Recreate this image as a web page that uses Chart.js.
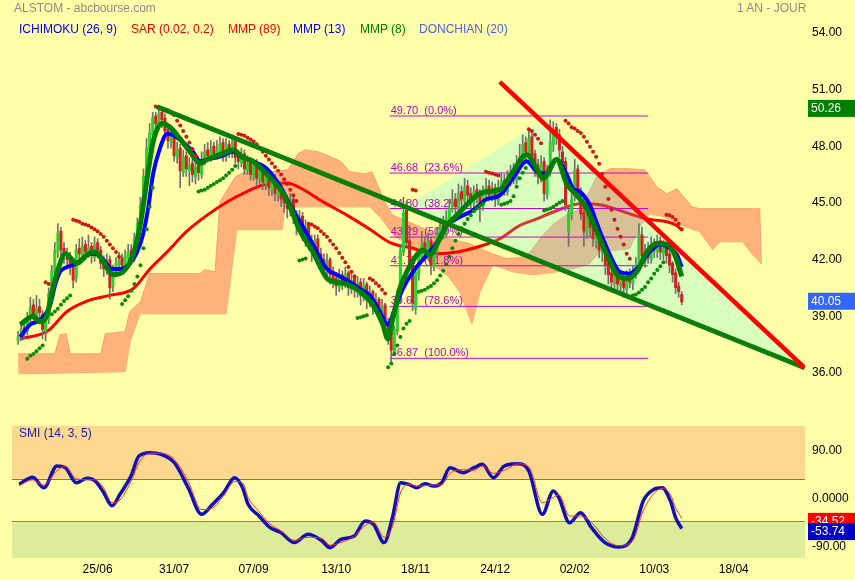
<!DOCTYPE html>
<html>
<head>
<meta charset="utf-8">
<title>ALSTOM - 1 an jour</title>
<script src="https://cdn.jsdelivr.net/npm/chart.js@4.4.1/dist/chart.umd.min.js"></script>
<style>
  html, body { margin: 0; padding: 0; }
  body { width: 855px; height: 580px; background: #ffffaa; position: relative; overflow: hidden;
         font-family: Arial, "Liberation Sans", sans-serif; }
  canvas { position: absolute; left: 0; }
  #priceChart { top: 0; }
  #smiChart { top: 420px; }
  .txt { position: absolute; font-size: 12px; line-height: 14px; white-space: nowrap; }
</style>
</head>
<body>
<canvas id="priceChart" width="855" height="415"></canvas>
<canvas id="smiChart" width="855" height="160"></canvas>

<div class="txt" style="left:14px;top:1px;color:#8a8a8a">ALSTOM - abcbourse.com</div>
<div class="txt" style="left:737px;top:1px;color:#8a8a8a">1 AN - JOUR</div>
<div class="txt" style="left:19px;top:22px;color:#0000e6">ICHIMOKU (26, 9)</div>
<div class="txt" style="left:131px;top:22px;color:#e60000">SAR (0.02, 0.2)</div>
<div class="txt" style="left:228px;top:22px;color:#ff0000">MMP (89)</div>
<div class="txt" style="left:293px;top:22px;color:#0000ff">MMP (13)</div>
<div class="txt" style="left:360px;top:22px;color:#008000">MMP (8)</div>
<div class="txt" style="left:419px;top:22px;color:#5060dd">DONCHIAN (20)</div>
<div class="txt" style="left:19px;top:426px;color:#1a1ab0">SMI (14, 3, 5)</div>

<script>
// x = session index, 0 = first day shown
const C = [
  38.0,38.4,38.2,39.0,39.6,39.2,39.5,39.3,38.4,38.9,
  40.3,41.5,42.6,43.5,42.6,42.3,42.1,41.8,41.0,42.6,
  42.4,42.8,42.5,42.7,42.3,42.9,42.6,41.9,41.6,42.0,
  40.6,41.5,41.9,42.1,41.8,42.3,42.5,42.3,43.2,44.0,
  45.0,46.5,48.0,48.8,49.6,49.3,49.8,49.5,48.9,48.4,
  48.7,47.6,47.9,46.8,47.5,46.9,47.1,46.6,47.0,46.7,
  47.4,47.8,47.6,48.0,47.7,47.9,48.2,47.6,48.1,47.8,
  48.3,47.5,47.3,47.6,46.9,47.2,46.6,47.1,46.4,46.8,
  46.2,46.5,45.9,46.3,45.6,45.9,45.3,45.1,44.8,45.2,
  44.4,43.9,44.3,43.5,43.8,43.0,42.6,43.1,42.3,42.0,
  41.6,42.0,41.3,41.0,40.7,41.2,40.9,41.3,40.6,41.0,
  40.5,40.8,40.2,40.7,40.0,40.3,39.7,39.9,39.4,39.6,
  38.9,38.3,37.3,38.4,40.2,42.6,44.6,43.0,42.0,39.8,
  41.4,42.3,42.9,42.5,43.0,41.8,42.6,43.4,43.9,43.6,
  44.3,44.8,45.2,44.9,45.6,45.3,45.9,45.5,45.2,45.7,
  45.4,45.0,45.6,45.9,45.5,45.8,45.3,45.9,46.2,45.8,
  46.3,46.7,46.4,47.0,47.5,48.2,47.8,48.5,47.6,47.0,
  46.5,47.2,45.6,46.8,48.3,49.0,48.6,47.9,47.2,45.0,
  44.6,45.3,46.8,45.8,44.5,43.6,44.4,43.8,43.2,43.6,
  42.6,42.9,41.8,41.3,40.9,41.4,40.8,41.1,40.6,41.2,
  40.9,41.5,41.8,43.5,42.3,42.5,42.2,42.8,42.6,43.0,
  42.5,42.7,42.3,41.8,41.3,40.6,40.4,39.85
];
const O = [
  37.8,38.0,38.5,38.3,39.0,39.7,39.1,39.6,39.2,38.3,
  38.9,40.2,41.4,42.5,43.6,42.7,42.2,42.2,41.9,41.1,
  42.7,42.3,42.9,42.4,42.8,42.2,43.0,42.6,42.0,41.5,
  42.1,40.7,41.4,41.8,42.2,41.7,42.2,42.6,42.2,43.1,
  43.9,45.1,46.4,47.9,48.7,49.7,49.2,49.9,49.6,49.0,
  48.3,48.8,47.5,48.0,46.7,47.6,46.8,47.2,46.5,47.1,
  46.6,47.3,47.9,47.5,48.1,47.6,47.8,48.3,47.5,48.2,
  47.7,48.4,47.6,47.2,47.7,46.8,47.3,46.5,47.2,46.3,
  46.9,46.1,46.6,45.8,46.4,45.5,46.0,45.4,45.2,44.7,
  45.3,44.5,43.8,44.4,43.4,43.9,43.1,42.5,43.2,42.4,
  42.1,41.5,42.1,41.4,41.1,40.6,41.3,40.8,41.4,40.5,
  41.1,40.4,40.9,40.1,40.8,39.9,40.4,39.6,40.0,39.3,
  39.7,38.8,38.2,37.2,38.3,40.0,42.5,44.7,43.1,41.9,
  39.5,41.3,42.2,43.0,42.4,43.1,41.7,42.5,43.3,44.0,
  43.5,44.2,44.9,45.3,44.8,45.7,45.2,46.0,45.6,45.1,
  45.8,45.5,44.9,45.5,46.0,45.4,45.9,45.2,45.8,46.3,
  45.7,46.2,46.8,46.3,47.1,47.4,48.3,47.7,48.6,47.7,
  47.1,46.4,47.3,45.5,46.7,48.2,49.1,48.7,47.8,47.3,
  43.6,44.5,45.4,46.9,45.7,44.6,43.5,44.5,43.9,43.1,
  43.7,42.5,43.0,41.9,41.4,40.8,41.5,40.7,41.2,40.5,
  41.3,40.8,41.4,41.9,43.4,42.0,42.6,42.1,42.9,42.5,
  43.1,42.4,42.8,42.4,41.9,41.4,40.7,40.25
];
const H = [
  38.3,38.7,38.8,39.3,40.1,40.0,40.2,40.0,39.4,39.3,
  40.6,41.8,43.0,44.0,43.8,43.0,42.7,42.5,42.1,42.9,
  43.2,43.3,43.1,43.4,43.0,43.3,43.2,42.8,42.3,42.4,
  42.3,41.8,42.2,42.5,42.4,42.6,42.9,42.9,43.5,44.3,
  45.4,46.9,48.5,49.3,49.9,49.9,50.0,50.0,49.8,49.2,
  49.1,49.0,48.3,48.2,47.9,47.8,47.5,47.4,47.4,47.3,
  47.8,48.2,48.3,48.4,48.3,48.4,48.6,48.5,48.5,48.4,
  48.7,48.6,47.9,48.0,47.9,47.6,47.5,47.4,47.4,47.2,
  47.1,46.9,46.8,46.6,46.6,46.3,46.2,45.7,45.5,45.6,
  45.5,44.7,44.7,44.6,44.2,44.0,43.4,43.4,43.4,42.7,
  42.4,42.4,42.2,41.7,41.4,41.6,41.5,41.7,41.5,41.4,
  41.3,41.2,41.1,41.1,40.9,40.7,40.5,40.3,40.1,40.0,
  39.8,39.0,38.4,38.6,40.5,42.9,45.4,45.2,43.9,42.2,
  41.7,42.6,43.6,43.3,43.5,43.3,43.0,43.8,44.3,44.4,
  44.7,45.3,45.8,45.6,46.1,46.0,46.4,46.3,45.9,46.0,
  46.1,45.8,46.0,46.4,46.3,46.2,46.1,46.3,46.7,46.6,
  46.8,47.1,47.2,47.6,48.2,48.7,48.6,48.9,48.8,47.9,
  47.4,47.6,47.5,47.1,49.5,49.4,49.3,49.0,48.1,47.5,
  44.8,45.6,47.4,47.1,45.9,45.4,44.8,44.7,44.1,44.0,
  43.9,43.3,43.1,42.1,41.7,41.8,41.6,41.5,41.4,41.5,
  41.6,41.8,42.2,44.0,43.8,42.9,43.0,43.3,43.2,43.4,
  43.3,43.1,43.0,42.6,42.0,41.6,40.9,40.4
];
const L = [
  37.6,37.8,37.9,38.1,38.8,38.9,38.9,39.0,37.9,37.8,
  38.7,40.0,41.2,42.2,42.3,41.9,41.7,41.3,40.6,40.9,
  42.0,42.1,42.1,42.2,41.9,42.0,42.2,41.6,41.2,41.3,
  40.0,40.4,41.2,41.6,41.5,41.5,42.0,42.0,42.0,42.9,
  43.7,44.9,46.2,47.6,48.4,48.9,49.0,49.1,48.6,48.0,
  48.0,47.3,47.2,45.9,46.5,46.5,46.0,46.2,46.1,46.3,
  46.4,47.1,47.3,47.3,47.4,47.4,47.6,47.3,47.3,47.5,
  47.5,47.2,46.9,47.0,46.6,46.6,46.3,46.3,46.0,46.1,
  45.8,45.8,45.5,45.5,45.2,45.2,44.9,44.6,44.3,44.4,
  44.0,43.4,43.6,43.1,42.8,42.6,42.0,42.2,41.9,41.6,
  41.2,41.2,40.8,40.6,40.2,40.4,40.5,40.6,40.2,40.3,
  40.1,40.1,39.7,39.9,39.5,39.6,39.2,39.3,38.9,39.0,
  38.4,37.6,36.7,37.0,38.1,39.8,42.3,42.8,41.7,39.4,
  39.2,41.0,42.0,42.0,42.1,41.3,41.5,42.3,43.1,43.2,
  43.3,44.0,44.6,44.5,44.6,45.0,45.0,45.2,44.8,44.6,
  45.1,44.1,44.7,45.3,45.2,45.2,44.9,45.0,45.6,45.5,
  45.5,46.0,46.1,46.1,46.9,47.2,47.2,47.5,47.3,46.5,
  46.1,46.2,45.2,45.3,46.5,47.8,48.2,47.5,46.8,44.7,
  42.8,44.2,45.2,45.5,44.2,42.8,43.2,43.3,42.8,42.7,
  42.2,42.0,41.3,40.8,40.5,40.5,40.4,40.3,40.1,40.2,
  40.6,40.5,41.1,41.7,41.8,41.7,41.9,41.9,42.2,42.2,
  42.1,42.1,41.9,41.4,40.9,40.3,40.1,39.7
];

// moving averages
const ma8Idx = [0.7,4.9,7.2,9.5,11.1,13.1,15.4,19.3,22.5,25.2,27.8,31,34.3,37.6,39.9,42.2,44.1,47.1,49.7,52.9,
  56.2,59.5,61.8,66,70.3,73.5,76.8,81.4,85.6,88.9,92.2,96.4,101,104.2,107.5,111.8,116,119.3,120.9,122.5,
  124.8,127.1,130.4,132.4,134.6,137.9,140.2,143.5,146.7,150,153.3,157.5,161.8,166.3,169.6,171.6,176.1,179.4,182.7,185.9,
  189.2,192.5,195.8,199,202.3,205.6,208.8,212.1,214.7,217];
const ma8Val = [38.65,39.1,38.8,39.2,40.4,41.6,42.4,41.9,42.35,42.5,42.0,41.3,41.45,42.35,43.9,46.4,48.3,49.3,49.1,48.5,
  47.8,47.2,47.4,47.65,47.9,47.5,47.3,46.6,45.85,44.9,43.6,42.5,41.1,40.9,40.8,40.4,39.7,38.65,37.9,38.95,
  40.55,41.45,42.35,42.6,42.35,43.2,43.9,44.45,45.0,45.5,45.7,45.8,46.75,47.65,46.9,46.4,47.4,46.1,45.5,44.8,
  43.6,42.35,41.3,41.1,41.45,42.5,42.95,42.9,42.35,41.2];
const ma13Idx = [0.7,3.9,7.2,10.5,12.1,13.7,16,19.3,22.5,25.2,27.8,30.7,33.3,36.6,38.9,40.8,42.5,44.1,46.4,48.7,
  50.7,53.9,57.2,59.5,61.8,66,70.3,73.5,76.8,81.4,85.6,88.9,92.2,96.4,101,104.2,107.5,111.8,115,118.3,
  120.9,123.2,125.8,129.1,133.7,136.9,140.2,144.4,148.7,153.3,157.5,161.8,166.3,169.6,172.9,176.1,179.4,181.5,183.7,186.9,
  190.2,193.5,196.7,200,203.3,206.5,209.8,213.1,215.4,217];
const ma13Val = [38.0,38.65,38.9,39.7,40.75,41.45,41.7,41.9,42.35,42.4,42.1,41.6,41.6,41.9,42.5,43.4,44.8,46.6,48.0,48.75,
  48.7,48.3,47.8,47.3,47.4,47.55,47.8,47.5,47.3,46.9,46.0,45.0,44.1,42.9,41.6,41.3,41.0,40.55,40.2,39.35,
  38.65,39.5,40.55,41.45,42.35,43.0,43.9,44.35,44.7,45.3,45.5,46.4,47.3,46.75,46.65,47.4,46.6,45.85,45.7,45.0,
  43.6,42.35,41.45,41.35,41.8,42.5,42.9,42.7,42.35,41.7];
const ma89Idx = [0.7,9.5,16,22.5,30,37.6,43.1,48.7,55.2,61.8,68.3,74.8,81.4,87.9,92.2,99.7,107.5,115,121.6,129.1,
  135.6,143.5,151,157.5,164,169.6,177.1,183.7,190.2,196.7,203.3,207.5,212.1,215.4,217];
const ma89Val = [37.9,38.3,39.35,39.9,40.2,40.55,41.6,42.5,43.6,44.45,45.15,45.7,46.1,46.15,45.9,45.15,44.45,43.7,43.0,42.7,
  42.4,42.5,42.8,43.2,43.9,44.25,44.75,45.05,45.0,44.7,44.35,44.2,44.1,43.9,43.65];

// ichimoku cloud envelope (projected 26 sessions ahead)
const cloudTopIdx = [0,12,13.7,15.7,17,27,28.5,35,36.5,40,43,59.5,61,64.4,66,71,76,82.7,88.2,91.5,
  93.8,98,102.3,105.6,108.5,113.4,115.7,119.9,122.2,131.4,137.9,147.7,153.3,159.8,165.7,168.3,170.6,174.8,179.4,183.7,
  189.2,193.5,199,204.9,208.8,212.1,215.4,217.6,220.3,222.9,242.5,243];
const cloudTopVal = [37.11,37.11,38.12,38.17,37.11,37.11,38.17,38.28,39.34,39.86,41.35,41.35,41.56,41.45,45.16,46.48,46.91,46.75,46.85,47.70,
  47.91,47.81,47.54,47.28,46.75,46.64,46.75,45.16,44.47,43.84,43.31,42.94,42.51,42.14,42.25,42.67,43.20,43.94,44.47,44.74,
  46.48,46.91,46.91,46.85,45.95,45.58,45.85,45.42,44.89,44.79,44.79,41.88];
const cloudBotIdx = [0,35,36.6,39.9,64.4,68,71.5,86.3,87.3,115,118.3,123.2,131.4,135.6,140.2,144.4,148.4,151,155.2,161.8,
  168.3,176.1,181.4,186.9,190.2,200,203.3,206.5,211.4,218,222.9,227.1,229.4,236.9,240.2,243];
const cloudBotVal = [36.05,36.16,37.75,39.23,39.23,39.23,43.68,43.68,44.89,44.89,44.36,43.31,42.51,41.82,41.29,40.39,38.70,40.39,41.82,41.45,
  41.29,41.45,41.61,41.88,42.51,42.67,43.84,44.52,44.36,43.84,43.57,42.62,43.04,43.04,42.35,41.88];

// parabolic SAR, one dot per session
const sar = [
  null,null,null,36.85,37.0,37.1,37.25,37.4,37.55,40.9,
  40.8,39.2,39.35,39.5,39.7,39.9,40.05,40.2,44.2,44.15,
  44.1,44.0,43.95,43.9,43.8,43.7,43.6,43.45,43.3,43.1,
  42.9,42.7,42.5,42.25,39.75,39.95,40.15,40.45,40.8,41.2,
  41.8,42.7,43.7,44.9,45.9,50.2,50.15,50.1,50.05,50.0,
  49.9,49.75,49.45,49.2,48.9,48.6,48.3,47.95,47.6,45.7,
  45.75,45.8,45.9,46.0,46.1,46.2,46.3,46.4,46.55,46.7,
  46.85,47.05,48.75,48.7,48.65,48.55,48.45,48.35,48.2,48.0,
  47.8,47.6,47.4,47.2,47.0,46.8,46.6,46.35,46.1,45.8,
  45.5,45.2,42.05,42.1,42.15,44.0,43.95,43.85,43.75,43.6,
  43.45,43.3,43.1,42.9,42.7,42.45,42.2,41.95,41.7,41.45,
  41.2,39.0,39.05,39.1,39.15,41.1,41.0,40.85,40.7,40.5,
  40.3,36.4,36.6,37.1,37.55,38.0,38.45,38.7,38.85,45.8,
  45.75,40.4,40.45,40.5,40.6,40.7,40.85,41.0,41.25,41.5,
  41.85,42.25,42.7,43.1,43.45,43.75,44.0,44.25,44.45,44.65,
  44.8,44.95,45.05,46.75,46.7,46.65,46.6,46.55,45.0,45.05,
  45.1,45.2,45.45,45.95,46.4,46.7,46.95,49.0,48.9,48.7,
  48.5,48.25,44.7,44.75,44.8,44.9,45.0,45.1,45.2,49.45,
  49.3,49.1,49.04,48.9,48.8,48.6,48.34,48.07,47.8,47.54,
  47.17,46.64,45.95,45.3,44.74,44.2,43.73,43.3,42.9,42.4,
  42.14,40.2,40.25,40.35,40.5,40.65,40.9,41.1,41.35,41.55,
  41.75,41.95,44.47,44.45,44.35,44.2,44.0,43.7
];

// retracement from the 36.87 low to the 49.70 high
const fibPrice = [49.70, 46.68, 44.80, 43.29, 41.77, 39.62, 36.87];
const fibPct = ['0.0%', '23.6%', '38.2%', '50.0%', '61.8%', '78.6%', '100.0%'];
const fibFrom = 121.5, fibTo = 206;

// hand drawn lines on the chart: [session, price]
const greenTrend = [[45.4, 50.19], [257.2, 36.37]];
const redTrend = [[157.5, 51.51], [257.2, 36.37]];
const wedge = [[126.5, 44.9], [172.2, 49.5], [257.2, 36.37], [126.5, 44.9]];

const priceTicks = [36, 39, 42, 45, 48, 51, 54];
const priceTags = [[50.26, '#008000'], [40.05, '#3366ff']];

// SMI panel
const smiIdx = [0.3,4.8,8.4,12.7,15.4,19,22.5,25.2,28,30.7,33.3,36.9,39.5,43.1,46.7,51.1,55.6,60,63.6,67.2,
  70.8,73.4,75.2,78.8,82.4,85.9,90.3,94.8,99.2,102,105.5,109.9,113.5,116.2,119.7,122.4,125.1,127.8,130.4,133.1,
  135.8,138.5,141.2,145.6,149.1,151.8,155.4,159,163.4,167,171.4,175,176.8,180.3,183.9,187.5,191.9,196.4,200.8,204.4,
  207.9,210.6,213.3,215,217];
const smiVal = [29.5,43,23,64,61,32.5,41,35.7,13.7,-11,10.7,45,82.7,89,86,70,23,-27,-8,13.7,
  42,23,-8,-30,-52,-61,-80,-64.5,-76,-89.6,-74,-67.7,-39.5,-45.7,-80,-33,32.5,29.5,23,30.7,
  26.3,32.5,60.7,51.3,60.7,67,42,64,68.2,54.5,-27,17,4.4,-42.7,-23.8,-52,-80,-88.3,-70.8,-1.9,
  20,23,-1.9,-33,-53.74];
const sigVal = [27,38,28,55,63,40,38,38,22,-5,0,35,70,88,88,76,35,-18,-15,8,
  35,32,5,-22,-45,-58,-76,-70,-72,-85,-80,-68,-48,-42,-70,-50,15,30,26,27,
  28,29,50,57,56,64,50,56,68,62,-5,5,10,-30,-30,-42,-72,-86,-78,-20,
  12,22,10,-15,-34.52];
const smiLevels = [40, -40];
const smiTicks = [-90, 0, 90];
const smiTickLabels = ['-90.00', '0.0000', '90.00'];
const smiTags = [[-34.52, '#ff0000'], [-53.74, '#0000cc']];

const tickIdx = [26, 51, 77, 104, 130, 156, 182, 208, 234];
const tickLabels = ['25/06', '31/07', '07/09', '13/10', '18/11', '24/12', '02/02', '10/03', '18/04'];

const FONT = 'Arial, "Liberation Sans", sans-serif';
Chart.defaults.font.family = FONT;
Chart.defaults.font.size = 12;
Chart.defaults.color = '#000';

const pts = (xs, ys) => xs.map((x, k) => ({ x: x, y: ys[k] }));
const pairs = arr => arr.map(p => ({ x: p[0], y: p[1] }));

// keep the plot area fixed: no room reserved for half tick labels
function noPad(axis) {
    axis.paddingTop = 0;
    axis.paddingBottom = 0;
    axis.paddingLeft = 0;
    axis.paddingRight = 0;
}

function drawTags(chart, tags) {
    const { ctx, chartArea, scales } = chart;
    ctx.save();
    ctx.font = '12px ' + FONT;
    ctx.textBaseline = 'middle';
    tags.forEach(t => {
        const cy = scales.y.getPixelForValue(t[0]) + 3;
        ctx.fillStyle = t[1];
        ctx.fillRect(chartArea.right + 3, cy - 8.5, 50, 17);
        ctx.fillStyle = '#fff';
        ctx.fillText(t[0].toFixed(2), chartArea.right + 6, cy + 0.5);
    });
    ctx.restore();
}

// 1. price panel
const fibData = [];
fibPrice.forEach(p => {
    fibData.push({ x: fibFrom, y: p }, { x: fibTo, y: p }, { x: fibTo + 0.1, y: null });
});

const sarPts = [], sarColors = [];
sar.forEach((v, i) => {
    if (v === null) return;
    sarPts.push({ x: i, y: v });
    sarColors.push(v < C[i] ? '#0a8a0a' : '#cc1a1a');
});

const bodies = C.map((c, i) => ({ x: i, y: [O[i], c] }));
const wicks = C.map((c, i) => ({ x: i, y: [L[i], H[i]] }));
const bodyColors = C.map((c, i) => c >= O[i] ? '#2ed02e' : '#d42020');

const fibLabels = {
    id: 'fibLabels',
    afterDatasetDraw(chart, args) {
        if (chart.data.datasets[args.index].label !== 'fib') return;
        const { ctx, scales } = chart;
        ctx.save();
        ctx.font = '11px ' + FONT;
        ctx.fillStyle = '#bb00bb';
        ctx.textBaseline = 'alphabetic';
        fibPrice.forEach((p, k) => {
            ctx.fillText(p.toFixed(2) + '  (' + fibPct[k] + ')',
                scales.x.getPixelForValue(fibFrom) + 1, scales.y.getPixelForValue(p) - 2);
        });
        ctx.restore();
    }
};

const priceTagPlugin = { id: 'priceTags', afterDraw(chart) { drawTags(chart, priceTags); } };

const line = (label, data, color, width, order, extra) => Object.assign({
    type: 'line', label, data, borderColor: color, borderWidth: width, pointRadius: 0,
    fill: false, order, cubicInterpolationMode: 'monotone'
}, extra || {});

new Chart(document.getElementById('priceChart'), {
    type: 'line',
    data: {
        datasets: [
            line('cloudTop', pts(cloudTopIdx, cloudTopVal), '#f4a070', 1, 100,
                { fill: '+1', backgroundColor: '#ffb27a', cubicInterpolationMode: 'default', tension: 0 }),
            line('cloudBot', pts(cloudBotIdx, cloudBotVal), '#f4a070', 1, 101,
                { cubicInterpolationMode: 'default', tension: 0 }),
            line('mmp89', pts(ma89Idx, ma89Val), '#ff0000', 3, 90),
            line('wedge', pairs(wedge), 'rgba(0,0,0,0)', 0, 80,
                { fill: 'shape', backgroundColor: 'rgba(60,255,255,0.2)', cubicInterpolationMode: 'default', tension: 0 }),
            line('fib', fibData, '#cc00cc', 1, 70, { cubicInterpolationMode: 'default', tension: 0 }),
            {
                type: 'bar', label: 'wicks', data: wicks, backgroundColor: '#707070',
                barThickness: 1, grouped: false, order: 60
            },
            {
                type: 'bar', label: 'bodies', data: bodies, backgroundColor: bodyColors,
                barThickness: 2.4, minBarLength: 1, grouped: false, order: 50
            },
            line('mmp13', pts(ma13Idx, ma13Val), '#0000ff', 4, 40),
            line('mmp8', pts(ma8Idx, ma8Val), '#008000', 5, 30),
            {
                type: 'line', label: 'sar', data: sarPts, showLine: false, pointRadius: 2,
                pointBorderWidth: 0, pointBackgroundColor: sarColors, order: 20
            },
            line('greenTrend', pairs(greenTrend), '#0a7d0a', 5, 15, { cubicInterpolationMode: 'default', tension: 0 }),
            line('redTrend', pairs(redTrend), '#ff0000', 4.5, 10, { cubicInterpolationMode: 'default', tension: 0 })
        ]
    },
    options: {
        responsive: false,
        animation: false,
        events: [],
        layout: { padding: { left: 12, right: 0, top: 0, bottom: 0 }, autoPadding: false },
        plugins: { legend: { display: false }, tooltip: { enabled: false } },
        scales: {
            x: { type: 'linear', min: -2, max: 257.3, offset: false, display: false },
            y: {
                position: 'right', min: 33.8691, max: 55.8397,
                grid: { display: false, drawTicks: false }, border: { display: false },
                afterBuildTicks: axis => { axis.ticks = priceTicks.map(v => ({ value: v })); },
                afterFit: axis => { axis.width = 50; noPad(axis); },
                ticks: { padding: 7, labelOffset: -1.75, callback: v => v.toFixed(2) }
            }
        }
    },
    plugins: [fibLabels, priceTagPlugin]
});

// 2. SMI panel
const smiBands = {
    id: 'smiBands',
    beforeDatasetsDraw(chart) {
        const { ctx, chartArea: a, scales } = chart;
        const yHi = scales.y.getPixelForValue(smiLevels[0]);
        const yLo = scales.y.getPixelForValue(smiLevels[1]);
        ctx.save();
        ctx.fillStyle = '#ffd890';
        ctx.fillRect(a.left, a.top, a.right - a.left, yHi - a.top);
        ctx.fillStyle = '#dcec98';
        ctx.fillRect(a.left, yLo, a.right - a.left, a.bottom - yLo);
        ctx.lineWidth = 1;
        ctx.strokeStyle = '#ff3b3b';
        ctx.beginPath(); ctx.moveTo(a.left, Math.round(yHi) + 0.5); ctx.lineTo(a.right, Math.round(yHi) + 0.5); ctx.stroke();
        ctx.strokeStyle = '#55aa33';
        ctx.beginPath(); ctx.moveTo(a.left, Math.round(yLo) + 0.5); ctx.lineTo(a.right, Math.round(yLo) + 0.5); ctx.stroke();
        ctx.restore();
    },
    afterDraw(chart) { drawTags(chart, smiTags); }
};

new Chart(document.getElementById('smiChart'), {
    type: 'line',
    data: {
        datasets: [
            line('signal', pts(smiIdx, sigVal), '#ff2a2a', 1, 1),
            line('smi', pts(smiIdx, smiVal), '#1010b8', 3.5, 2)
        ]
    },
    options: {
        responsive: false,
        animation: false,
        events: [],
        layout: { padding: { left: 12, right: 0, top: 6, bottom: 0 }, autoPadding: false },
        plugins: { legend: { display: false }, tooltip: { enabled: false } },
        scales: {
            x: {
                type: 'linear', min: -2, max: 257.3, offset: false,
                grid: { display: false, drawTicks: false }, border: { display: false },
                afterBuildTicks: axis => { axis.ticks = tickIdx.map(v => ({ value: v })); },
                afterFit: axis => { axis.height = 22; noPad(axis); },
                ticks: { autoSkip: false, maxRotation: 0, padding: 4, callback: (v, i) => tickLabels[i] }
            },
            y: {
                position: 'right', min: -109.02, max: 139.1,
                grid: { display: false, drawTicks: false }, border: { display: false },
                afterBuildTicks: axis => { axis.ticks = smiTicks.map(v => ({ value: v })); },
                afterFit: axis => { axis.width = 50; noPad(axis); },
                ticks: { padding: 7, labelOffset: -1, callback: (v, i) => smiTickLabels[i] }
            }
        }
    },
    plugins: [smiBands]
});
</script>
</body>
</html>
